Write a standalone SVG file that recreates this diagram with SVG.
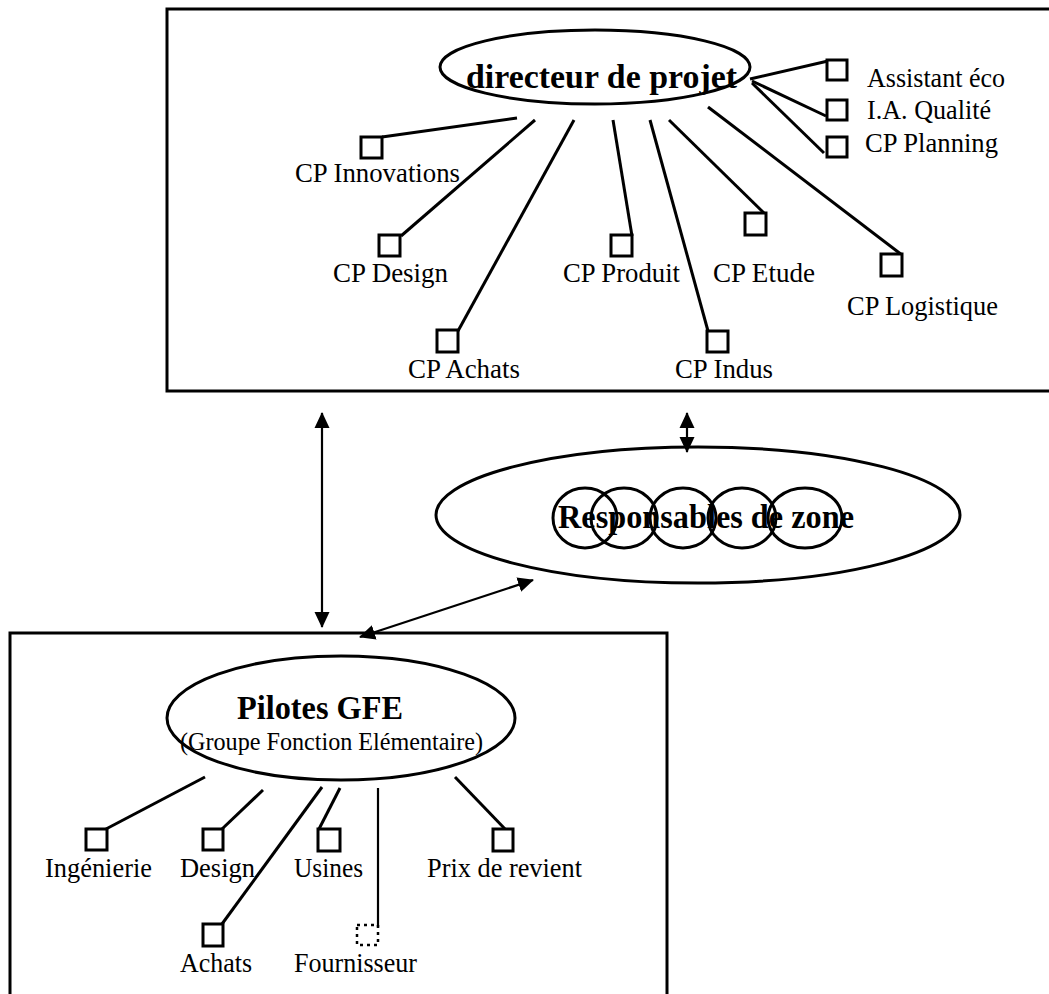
<svg xmlns="http://www.w3.org/2000/svg" width="1049" height="994" viewBox="0 0 1049 994">
<style>
.frame{fill:none;stroke:#000;stroke-width:3}
.ell{fill:none;stroke:#000;stroke-width:3}
.sq{fill:#fff;stroke:#000;stroke-width:3}
.dsq{fill:none;stroke:#000;stroke-width:2.5;stroke-dasharray:3 4}
.ln{stroke:#000;stroke-width:3;fill:none}
.arr{stroke:#000;stroke-width:2.2;fill:none;marker-start:url(#ah);marker-end:url(#ah)}
.lbl{font-family:"Liberation Serif","Times New Roman",serif;font-size:27px;fill:#000}
.big{font-family:"Liberation Serif","Times New Roman",serif;font-size:34px;font-weight:bold;fill:#000}
.sub{font-family:"Liberation Serif","Times New Roman",serif;font-size:25px;fill:#000}
</style>
<defs>
<marker id="ah" markerUnits="userSpaceOnUse" markerWidth="16" markerHeight="16" viewBox="0 0 16 16" refX="15" refY="8" orient="auto-start-reverse">
<path d="M0,0.5 L16,8 L0,15.5 Z" fill="#000"/>
</marker>
</defs>
<rect width="1049" height="994" fill="#fff"/>

<g id="frame-top"><rect class="frame" x="167" y="9" width="900" height="382"/></g>
<g id="frame-bottom"><rect class="frame" x="10" y="633" width="657" height="380"/></g>

<g id="connectors">
<line class="ln" x1="382" y1="137" x2="517" y2="118"/>
<line class="ln" x1="535" y1="120" x2="401" y2="236"/>
<line class="ln" x1="574" y1="120" x2="458" y2="331"/>
<line class="ln" x1="613" y1="120" x2="632" y2="236"/>
<line class="ln" x1="650" y1="120" x2="708" y2="331"/>
<line class="ln" x1="669" y1="120" x2="765" y2="214"/>
<line class="ln" x1="708" y1="107" x2="902" y2="255"/>
<line class="ln" x1="750" y1="79" x2="828" y2="61"/>
<line class="ln" x1="752" y1="81" x2="826" y2="116"/>
<line class="ln" x1="752" y1="83" x2="824" y2="153"/>
<line class="ln" x1="205" y1="777" x2="106" y2="829"/>
<line class="ln" x1="263" y1="790" x2="222" y2="829"/>
<line class="ln" x1="322" y1="787" x2="222" y2="924"/>
<line class="ln" x1="340" y1="788" x2="319" y2="829"/>
<line class="ln" x1="378" y1="788" x2="378" y2="927" style="stroke-width:2.2"/>
<line class="ln" x1="455" y1="777" x2="506" y2="830"/>
<line class="arr" x1="322" y1="413" x2="322" y2="627"/>
<line class="arr" x1="687" y1="413" x2="687" y2="452"/>
<line class="arr" x1="533" y1="580" x2="360" y2="637"/>
</g>

<g id="directeur">
<ellipse class="ell" cx="595" cy="67" rx="155" ry="37"/>
<text class="big" x="466" y="88" textLength="271" lengthAdjust="spacingAndGlyphs">directeur de projet</text>
</g>

<g id="cp-innovations"><rect class="sq" x="361" y="137" width="21" height="21"/><text class="lbl" x="295" y="182" textLength="165" lengthAdjust="spacingAndGlyphs">CP Innovations</text></g>
<g id="cp-design"><rect class="sq" x="379" y="235" width="21" height="21"/><text class="lbl" x="333" y="282" textLength="115" lengthAdjust="spacingAndGlyphs">CP Design</text></g>
<g id="cp-achats"><rect class="sq" x="437" y="330" width="21" height="22"/><text class="lbl" x="408" y="378" textLength="112" lengthAdjust="spacingAndGlyphs">CP Achats</text></g>
<g id="cp-produit"><rect class="sq" x="611" y="235" width="21" height="21"/><text class="lbl" x="563" y="282" textLength="117" lengthAdjust="spacingAndGlyphs">CP Produit</text></g>
<g id="cp-indus"><rect class="sq" x="707" y="331" width="21" height="21"/><text class="lbl" x="675" y="378" textLength="98" lengthAdjust="spacingAndGlyphs">CP Indus</text></g>
<g id="cp-etude"><rect class="sq" x="745" y="213" width="21" height="22"/><text class="lbl" x="713" y="282" textLength="102" lengthAdjust="spacingAndGlyphs">CP Etude</text></g>
<g id="cp-logistique"><rect class="sq" x="881" y="254" width="21" height="22"/><text class="lbl" x="847" y="315" textLength="151" lengthAdjust="spacingAndGlyphs">CP Logistique</text></g>
<g id="assistant-eco"><rect class="sq" x="827" y="60" width="20" height="20"/><text class="lbl" x="867" y="87" textLength="138" lengthAdjust="spacingAndGlyphs">Assistant éco</text></g>
<g id="ia-qualite"><rect class="sq" x="827" y="100" width="20" height="20"/><text class="lbl" x="867" y="119" textLength="124" lengthAdjust="spacingAndGlyphs">I.A. Qualité</text></g>
<g id="cp-planning"><rect class="sq" x="827" y="137" width="20" height="20"/><text class="lbl" x="865" y="152" textLength="133" lengthAdjust="spacingAndGlyphs">CP Planning</text></g>

<g id="responsables">
<ellipse class="ell" cx="698" cy="515" rx="262" ry="68"/>
<ellipse class="ell" cx="585" cy="518" rx="32" ry="30"/>
<ellipse class="ell" cx="624" cy="518" rx="33" ry="30"/>
<ellipse class="ell" cx="683" cy="518" rx="33" ry="30"/>
<ellipse class="ell" cx="742" cy="518" rx="34" ry="30"/>
<ellipse class="ell" cx="805" cy="518" rx="37" ry="30"/>
<text class="big" x="558" y="528" textLength="296" lengthAdjust="spacingAndGlyphs">Responsables de zone</text>
</g>

<g id="pilotes">
<ellipse class="ell" cx="341" cy="718" rx="174" ry="62"/>
<text class="big" x="237" y="719" textLength="166" lengthAdjust="spacingAndGlyphs">Pilotes GFE</text>
<text class="sub" x="180" y="750" textLength="303" lengthAdjust="spacingAndGlyphs">(Groupe Fonction Elémentaire)</text>
</g>

<g id="ingenierie"><rect class="sq" x="86" y="829" width="21" height="21"/><text class="lbl" x="45" y="877" textLength="107" lengthAdjust="spacingAndGlyphs">Ingénierie</text></g>
<g id="design"><rect class="sq" x="203" y="829" width="20" height="21"/><text class="lbl" x="180" y="877" textLength="75" lengthAdjust="spacingAndGlyphs">Design</text></g>
<g id="usines"><rect class="sq" x="318" y="829" width="22" height="22"/><text class="lbl" x="294" y="877" textLength="69" lengthAdjust="spacingAndGlyphs">Usines</text></g>
<g id="prix-de-revient"><rect class="sq" x="493" y="829" width="20" height="22"/><text class="lbl" x="427" y="877" textLength="155" lengthAdjust="spacingAndGlyphs">Prix de revient</text></g>
<g id="achats"><rect class="sq" x="203" y="924" width="20" height="22"/><text class="lbl" x="180" y="972" textLength="72" lengthAdjust="spacingAndGlyphs">Achats</text></g>
<g id="fournisseur"><rect class="dsq" x="357" y="925" width="21" height="20"/><text class="lbl" x="294" y="972" textLength="123" lengthAdjust="spacingAndGlyphs">Fournisseur</text></g>
</svg>
